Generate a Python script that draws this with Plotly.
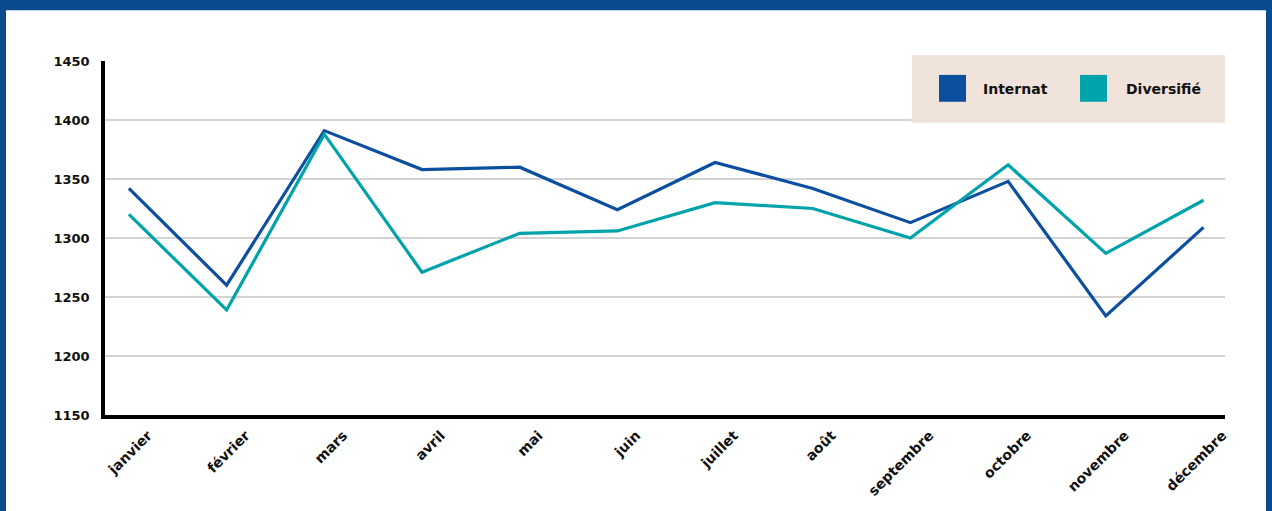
import plotly.graph_objects as go

months = ["janvier", "février", "mars", "avril", "mai", "juin", "juillet",
          "août", "septembre", "octobre", "novembre", "décembre"]
internat = [1342, 1260, 1391, 1358, 1360, 1324, 1364, 1342, 1313, 1348, 1234, 1309]
diversifie = [1320, 1239, 1388, 1271, 1304, 1306, 1330, 1325, 1300, 1362, 1287, 1332]
y_ticks = [1150, 1200, 1250, 1300, 1350, 1400, 1450]

C_INT = "#0B4F9E"
C_DIV = "#00A3AA"
BORDER = "#0A4A8F"
FONT = "DejaVu Sans"

W, H = 1272, 511
L, R, T, B = 105, 47, 61, 94
pw, ph = W - L - R, H - T - B

def px(x):
    return (x - L) / pw

def py(y):
    return (H - B - y) / ph

fig = go.Figure()
fig.add_trace(go.Scatter(x=months, y=internat, mode="lines", name="Internat",
                         line=dict(color=C_INT, width=3.2), showlegend=False))
fig.add_trace(go.Scatter(x=months, y=diversifie, mode="lines", name="Diversifié",
                         line=dict(color=C_DIV, width=3.2), showlegend=False))

shapes = [
    dict(type="rect", xref="paper", yref="paper", layer="below",
         x0=px(6), x1=px(1266), y0=py(515), y1=py(10),
         fillcolor="white", line=dict(width=0)),
    dict(type="rect", xref="paper", yref="paper", layer="above",
         x0=px(912), x1=px(1225), y0=py(123), y1=py(55),
         fillcolor="#EFE3DB", line=dict(width=0)),
    dict(type="rect", xref="paper", yref="paper", layer="above",
         x0=px(939), x1=px(966), y0=py(102), y1=py(75),
         fillcolor=C_INT, line=dict(width=0)),
    dict(type="rect", xref="paper", yref="paper", layer="above",
         x0=px(1080), x1=px(1107), y0=py(102), y1=py(75),
         fillcolor=C_DIV, line=dict(width=0)),
]
annotations = [
    dict(xref="paper", yref="paper", x=px(981), y=py(89), text="Internat",
         showarrow=False, xanchor="left", yanchor="middle",
         font=dict(family=FONT, size=14, color="#111111", weight="bold")),
    dict(xref="paper", yref="paper", x=px(1124), y=py(89), text="Diversifié",
         showarrow=False, xanchor="left", yanchor="middle",
         font=dict(family=FONT, size=14, color="#111111", weight="bold")),
]

fig.update_layout(
    width=W, height=H,
    margin=dict(l=L, r=R, t=T, b=B, pad=0),
    paper_bgcolor=BORDER, plot_bgcolor="white",
    shapes=shapes, annotations=annotations,
    font=dict(family=FONT, size=13, color="#111111", weight="bold"),
    xaxis=dict(range=[-0.245, 11.22], showgrid=False, showline=True,
               linecolor="black", linewidth=3.5, ticks="", tickangle=-45,
               ticklabelshift=19, ticklabelstandoff=3,
               tickfont=dict(family=FONT, size=14, color="#111111", weight="bold")),
    yaxis=dict(range=[1150, 1450], tickvals=y_ticks, showgrid=True,
               gridcolor="#D3D3D3", gridwidth=1.5, showline=True,
               linecolor="black", linewidth=3.5, ticks="", zeroline=False,
               ticklabelstandoff=9,
               tickfont=dict(family=FONT, size=13, color="#111111", weight="bold")),
)

fig.write_html("out.html", config={"displayModeBar": False},
               post_script="document.body.style.margin='0';document.body.style.overflow='hidden';")
